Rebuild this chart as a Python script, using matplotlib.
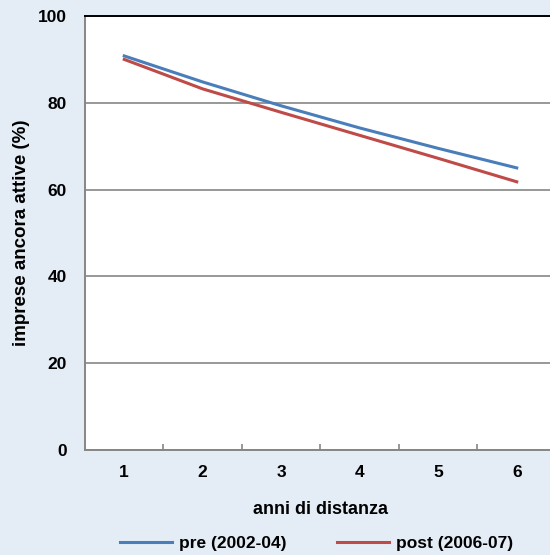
import numpy as np
import matplotlib.pyplot as plt

plt.rcParams['font.family'] = ['Liberation Sans', 'DejaVu Sans']

# Data
anni = [1, 2, 3, 4, 5, 6]
pre = [90.8, 84.8, 79.3, 74.2, 69.5, 65.0]
post = [90.0, 83.2, 77.8, 72.5, 67.2, 61.8]
y_ticks = [0, 20, 40, 60, 80, 100]

bg = "#e4ecf5"
fs = 12.5
fig = plt.figure(figsize=(5.5, 5.55), dpi=100, facecolor=bg)
ax = fig.add_axes([85 / 550, 1 - 450 / 555, (556 - 85) / 550, (450 - 16) / 555])
ax.set_facecolor("white")

ax.plot(anni, pre, color="#4a7ebb", linewidth=2.2, label="pre (2002-04)")
ax.plot(anni, post, color="#be4b48", linewidth=2.2, label="post (2006-07)")

ax.set_xlim(0.5, 6.5)
ax.set_ylim(0, 100)
ax.set_yticks(y_ticks)
ax.set_xticks(anni)
ax.set_xticks(np.arange(1.5, 6.5, 1), minor=True)
ax.tick_params(axis="both", which="major", length=0, labelsize=fs)
ax.tick_params(axis="x", which="minor", direction="in", length=4, color="#868686", width=1.2)
ax.tick_params(axis="x", which="major", pad=11)
ax.tick_params(axis="y", which="major", pad=13)
for lab in ax.get_xticklabels() + ax.get_yticklabels():
    lab.set_fontweight("bold")

ax.grid(axis="y", color="#868686", linewidth=1.2)
ax.set_axisbelow(True)
for side in ["left", "bottom"]:
    ax.spines[side].set_color("#868686")
    ax.spines[side].set_linewidth(1.4)
ax.spines["right"].set_visible(False)
ax.spines["top"].set_color("black")
ax.spines["top"].set_linewidth(1.4)

ax.set_xlabel("anni di distanza", fontsize=13, fontweight="bold", labelpad=15)
ax.set_ylabel("imprese ancora attive (%)", fontsize=13.5, fontweight="bold", labelpad=6)

fig.legend(loc="center", bbox_to_anchor=(0.575, 1 - 543 / 555), ncol=2, frameon=False,
           handlelength=3.0, columnspacing=2.9, handletextpad=0.4,
           prop={"weight": "bold", "size": fs})

fig.savefig("out.png", dpi=100, facecolor=bg)
